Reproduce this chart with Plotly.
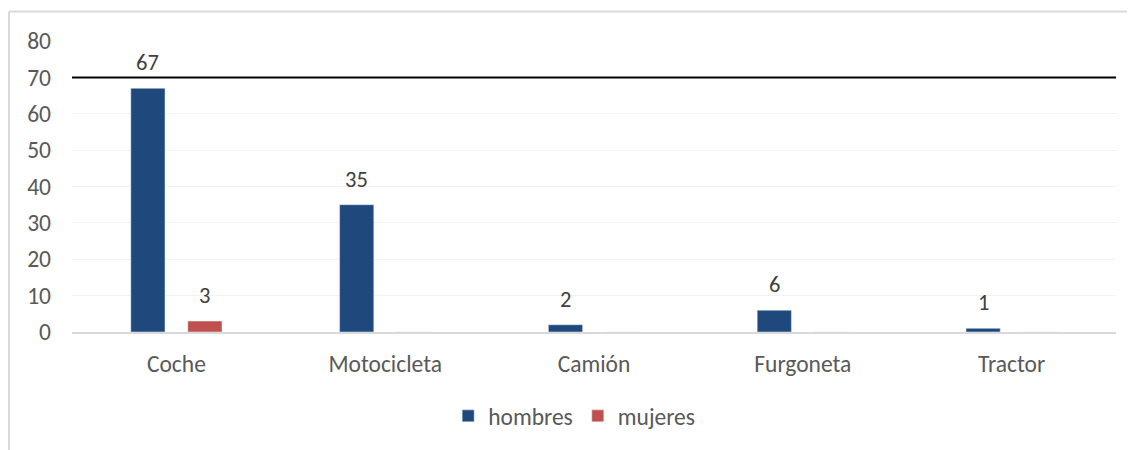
import plotly.graph_objects as go

vehiculos = ["Coche", "Motocicleta", "Camión", "Furgoneta", "Tractor"]
hombres = [67, 35, 2, 6, 1]
mujeres = [3, 0, 0, 0, 0]
linea_ref = 70
y_ticks = [0, 10, 20, 30, 40, 50, 60, 70, 80]

AZUL = "#1F497D"
ROJO = "#C0504D"
FONT = "Carlito, Calibri, Lato, sans-serif"
FS = 23.5

fig = go.Figure()
fig.add_trace(go.Bar(x=vehiculos, y=hombres, name="hombres", marker_color=AZUL))
fig.add_trace(go.Bar(x=vehiculos, y=mujeres, name="mujeres", marker_color=ROJO))

# data labels above bars (skip zeros), offset to each bar of the group
for serie, dx in ((hombres, -28.5), (mujeres, 28.5)):
    for cat, v in zip(vehiculos, serie):
        if v == 0:
            continue
        fig.add_annotation(x=cat, y=v, text=str(v), showarrow=False,
                           xshift=dx, yshift=10, yanchor="bottom",
                           font=dict(size=22.5, color="#404040", family=FONT))

fig.add_hline(y=linea_ref, line=dict(color="black", width=2))

# chart-area border (only top and left edges are inside the picture)
border = dict(color="#D9D9D9", width=2)
fig.add_shape(type="line", xref="paper", yref="paper", x0=-0.0603, x1=1.2,
              y0=1.101, y1=1.101, line=border)
fig.add_shape(type="line", xref="paper", yref="paper", x0=-0.0603, x1=-0.0603,
              y0=1.101, y1=-0.6, line=border)

# page body adds an 8px offset, margins compensate for it
fig.update_layout(
    width=1135, height=450,
    margin=dict(l=64, r=27, t=33, b=126, autoexpand=False),
    paper_bgcolor="white", plot_bgcolor="white",
    barmode="group", bargap=0.454, bargroupgap=0.40,
    font=dict(family=FONT, size=FS, color="#595959"),
    showlegend=True,
    legend=dict(orientation="h", x=0.481, xanchor="center", y=-0.289, yanchor="middle",
                font=dict(size=FS, color="#595959"), itemwidth=30),
    xaxis=dict(showline=True, linecolor="#D9D9D9", linewidth=2, ticks="",
               automargin=False, ticklabelstandoff=10,
               tickfont=dict(size=FS, color="#595959")),
    yaxis=dict(range=[0, 80], tickvals=y_ticks, showgrid=True, gridcolor="#F2F2F2",
               gridwidth=1, zeroline=False, ticklabelstandoff=20, automargin=False,
               tickfont=dict(size=FS, color="#595959")),
)

fig.write_html("out.html")
